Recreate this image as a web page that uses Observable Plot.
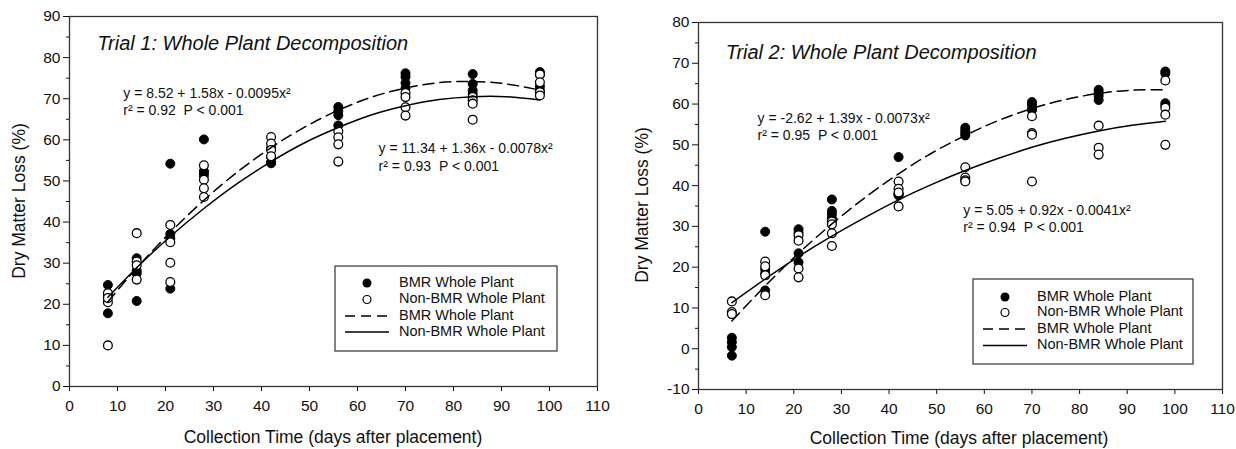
<!DOCTYPE html>
<html><head><meta charset="utf-8">
<script src="https://cdn.jsdelivr.net/npm/d3@7"></script>
<script src="https://cdn.jsdelivr.net/npm/@observablehq/plot@0.6"></script>
<style>
body{margin:0;background:#fff;}
#wrap{display:flex;width:1236px;height:449px;}
svg{display:block}
</style></head><body><div id="wrap"></div>
<script>
const FONT = "'Liberation Sans', Arial, Helvetica, sans-serif";

// ---------- Trial 1 data ----------
const t1Days = [8, 14, 21, 28, 42, 56, 70, 84, 98];
const t1Bmr = [[24.7, 17.8, 22.0], [31.2, 28.2, 27.5, 20.8], [54.2, 37.1, 36.0, 23.8], [60.1, 52.4, 51.3, 52.0],
  [58.0, 55.8, 54.6, 54.3], [68.0, 67.0, 66.0, 63.5], [76.2, 75.3, 73.8, 72.5], [76.0, 73.6, 72.0, 71.2], [76.5, 75.8, 73.0, 72.0]];
const t1Non = [[22.7, 20.5, 21.5, 10.0], [37.3, 30.4, 29.5, 26.0], [39.3, 35.1, 30.1, 25.4], [53.8, 50.3, 48.2, 46.1],
  [60.7, 59.1, 57.5, 56.0], [62.1, 60.6, 58.9, 54.7], [71.4, 70.4, 67.9, 65.9], [70.4, 69.6, 68.8, 64.9], [75.9, 74.0, 71.6, 70.8]];
const t1FitDays = [8, 14, 21, 28, 35, 42, 49, 56, 63, 70, 77, 84, 91, 98];
const t1BmrFit = [20.6, 28.8, 37.5, 45.3, 52.2, 58.1, 63.1, 67.2, 70.4, 72.6, 73.9, 74.2, 73.6, 72.1];
const t1NonFit = [21.7, 28.9, 36.5, 43.3, 49.4, 54.7, 59.3, 63.0, 66.1, 68.3, 69.8, 70.5, 70.5, 69.7];
const t1Title = "Trial 1: Whole Plant Decomposition";
const t1EqBmr = ["y = 8.52 + 1.58x - 0.0095x²", "r² = 0.92  P < 0.001"];
const t1EqNon = ["y = 11.34 + 1.36x - 0.0078x²", "r² = 0.93  P < 0.001"];

// ---------- Trial 2 data ----------
const t2Days = [7, 14, 21, 28, 42, 56, 70, 84, 98];
const t2Bmr = [[2.7, 1.6, 0.4, -1.7], [28.7, 19.5, 18.5, 14.3], [29.3, 28.5, 23.4, 21.2], [36.6, 33.8, 33.0, 32.0],
  [47.0, 38.0, 37.6, 37.8], [54.2, 53.5, 52.8, 52.3], [60.5, 59.8, 58.8, 58.5], [63.5, 62.8, 62.0, 61.0], [68.0, 67.5, 60.2, 59.6]];
const t2Non = [[11.6, 9.0, 8.5], [21.4, 20.2, 18.0, 13.1], [27.8, 26.5, 19.7, 17.5], [31.2, 30.5, 28.3, 25.2],
  [41.0, 39.2, 38.3, 34.9], [44.5, 42.0, 41.3, 41.0], [57.0, 52.9, 52.5, 41.0], [54.7, 49.3, 47.6], [65.8, 59.1, 57.4, 50.0]];
const t2FitDays = [7, 14, 21, 28, 35, 42, 49, 56, 63, 70, 77, 84, 91, 98];
const t2BmrFit = [6.8, 15.4, 23.4, 30.6, 37.1, 42.9, 48.0, 52.3, 56.0, 58.9, 61.1, 62.6, 63.4, 63.5];
const t2NonFit = [11.3, 17.1, 22.6, 27.6, 32.2, 36.5, 40.3, 43.7, 46.7, 49.4, 51.6, 53.4, 54.8, 55.8];
const t2Title = "Trial 2: Whole Plant Decomposition";
const t2EqBmr = ["y = -2.62 + 1.39x - 0.0073x²", "r² = 0.95  P < 0.001"];
const t2EqNon = ["y = 5.05 + 0.92x - 0.0041x²", "r² = 0.94  P < 0.001"];

// ---------- shared text / ticks ----------
const xTicks = [0, 10, 20, 30, 40, 50, 60, 70, 80, 90, 100, 110];
const t1YTicks = [0, 10, 20, 30, 40, 50, 60, 70, 80, 90];
const t2YTicks = [-10, 0, 10, 20, 30, 40, 50, 60, 70, 80];
const xLabel = "Collection Time (days after placement)";
const yLabel = "Dry Matter Loss (%)";
const legendLabels = ["BMR Whole Plant", "Non-BMR Whole Plant", "BMR Whole Plant", "Non-BMR Whole Plant"];

function flat(days, groups) {
  const out = [];
  groups.forEach((g, i) => g.forEach(v => out.push({day: days[i], loss: v})));
  return out;
}
function fit(days, vals) { return days.map((d, i) => ({day: d, loss: vals[i]})); }

function panel(cfg) {
  const yMinor = d3.range(cfg.yDomain[0] + 5, cfg.yDomain[1], 10);
  const TICK_FS = 15.5;
  const svg = Plot.plot({
    width: 618, height: 449,
    marginLeft: cfg.ml, marginRight: cfg.mr, marginTop: cfg.mt, marginBottom: cfg.mb,
    style: {fontFamily: FONT, fontSize: "13px", color: "#111", background: "white"},
    x: {domain: [0, 110]},
    y: {domain: cfg.yDomain},
    marks: [
      Plot.axisX({ticks: xTicks, tickSize: 5, tickFormat: () => "", label: null}),
      Plot.axisY({ticks: cfg.yTicks, tickSize: 6, tickFormat: () => "", label: null}),
      Plot.axisY({ticks: yMinor, tickSize: 3, tickFormat: () => "", label: null}),
      Plot.text(xTicks, {x: d => d, frameAnchor: "bottom", dy: 20, lineAnchor: "middle", text: d => String(d), fontSize: TICK_FS, fill: "#111"}),
      Plot.text(cfg.yTicks, {y: d => d, frameAnchor: "left", dx: -9, textAnchor: "end", lineAnchor: "middle", text: d => String(d), fontSize: TICK_FS, fill: "#111"}),
      Plot.dot(flat(cfg.days, cfg.bmr), {x: "day", y: "loss", r: 4.5, fill: "black", stroke: "black", strokeWidth: 1}),
      Plot.dot(flat(cfg.days, cfg.non), {x: "day", y: "loss", r: 4.4, fill: "white", stroke: "black", strokeWidth: 1.3}),
      Plot.line(fit(cfg.fitDays, cfg.bmrFit), {x: "day", y: "loss", curve: "natural", stroke: "black", strokeWidth: 1.5, strokeDasharray: "11,6"}),
      Plot.line(fit(cfg.fitDays, cfg.nonFit), {x: "day", y: "loss", curve: "natural", stroke: "black", strokeWidth: 1.5}),
      Plot.frame({stroke: "#333", strokeWidth: 1.3}),
      Plot.text([cfg.title], {x: cfg.titlePos[0], y: cfg.titlePos[1], text: d => d, textAnchor: "start", fontSize: 20, fontStyle: "italic", fill: "#111"}),
      Plot.text([cfg.eqBmr[0]], {x: cfg.eq1Pos[0], y: cfg.eq1Pos[1], text: d => d, textAnchor: "start", fontSize: 14, fill: "#111"}),
      Plot.text([cfg.eqBmr[1]], {x: cfg.eq1Pos[0], y: cfg.eq1Pos[2], text: d => d, textAnchor: "start", fontSize: 14, fill: "#111"}),
      Plot.text([cfg.eqNon[0]], {x: cfg.eq2Pos[0], y: cfg.eq2Pos[1], text: d => d, textAnchor: "start", fontSize: 14, fill: "#111"}),
      Plot.text([cfg.eqNon[1]], {x: cfg.eq2Pos[0], y: cfg.eq2Pos[2], text: d => d, textAnchor: "start", fontSize: 14, fill: "#111"})
    ]
  });
  const s = d3.select(svg);
  // axis titles
  s.append("text").attr("x", cfg.xLab[0]).attr("y", cfg.xLab[1]).attr("text-anchor", "middle")
    .attr("dominant-baseline", "middle").style("font-size", "17.5px").attr("fill", "#111").text(xLabel);
  s.append("text").attr("transform", `translate(${cfg.yLab[0]},${cfg.yLab[1]}) rotate(-90)`).attr("text-anchor", "middle")
    .attr("dominant-baseline", "middle").style("font-size", "17.5px").attr("fill", "#111").text(yLabel);
  // legend
  const L = cfg.legend;
  const g = s.append("g").attr("text-anchor", "start");
  g.append("rect").attr("x", L.x0).attr("y", L.y0).attr("width", L.x1 - L.x0).attr("height", L.y1 - L.y0)
    .attr("fill", "white").attr("stroke", "#333").attr("stroke-width", 1.2);
  L.rows.forEach((ry, i) => {
    if (i === 0) g.append("circle").attr("cx", L.sx).attr("cy", ry).attr("r", 4.5).attr("fill", "black");
    if (i === 1) g.append("circle").attr("cx", L.sx).attr("cy", ry).attr("r", 4).attr("fill", "white").attr("stroke", "black").attr("stroke-width", 1.2);
    if (i === 2) g.append("line").attr("x1", L.lx0).attr("x2", L.lx1).attr("y1", ry).attr("y2", ry).attr("stroke", "black").attr("stroke-width", 1.5).attr("stroke-dasharray", "10,6");
    if (i === 3) g.append("line").attr("x1", L.lx0).attr("x2", L.lx1).attr("y1", ry).attr("y2", ry).attr("stroke", "black").attr("stroke-width", 1.5);
    g.append("text").attr("x", L.tx).attr("y", ry).attr("text-anchor", "start").attr("dominant-baseline", "middle")
      .style("font-size", "14.5px").attr("fill", "#111").text(legendLabels[i]);
  });
  return svg;
}

const wrap = document.getElementById("wrap");
wrap.appendChild(panel({
  ml: 69, mr: 21, mt: 16, mb: 63, yDomain: [0, 90], yTicks: t1YTicks,
  days: t1Days, bmr: t1Bmr, non: t1Non, fitDays: t1FitDays, bmrFit: t1BmrFit, nonFit: t1NonFit,
  title: t1Title, eqBmr: t1EqBmr, eqNon: t1EqNon,
  titlePos: [5.8, 83.4], eq1Pos: [11.2, 71.3, 67.1], eq2Pos: [64.4, 57.9, 53.5],
  xLab: [333, 438], yLab: [20, 201],
  legend: {x0: 335, x1: 557, y0: 266, y1: 351, sx: 367, tx: 399, lx0: 345, lx1: 389, rows: [283, 299.5, 316, 332]}
}));
wrap.appendChild(panel({
  ml: 80, mr: 14, mt: 22, mb: 60, yDomain: [-10, 80], yTicks: t2YTicks,
  days: t2Days, bmr: t2Bmr, non: t2Non, fitDays: t2FitDays, bmrFit: t2BmrFit, nonFit: t2NonFit,
  title: t2Title, eqBmr: t2EqBmr, eqNon: t2EqNon,
  titlePos: [5.7, 72.6], eq1Pos: [12.4, 56.5, 52.3], eq2Pos: [55.6, 33.9, 29.7],
  xLab: [341, 439], yLab: [25, 205],
  legend: {x0: 355, x1: 575, y0: 279, y1: 364, sx: 387, tx: 419, lx0: 365, lx1: 409, rows: [297, 312.5, 329, 345.5]}
}));
</script></body></html>
